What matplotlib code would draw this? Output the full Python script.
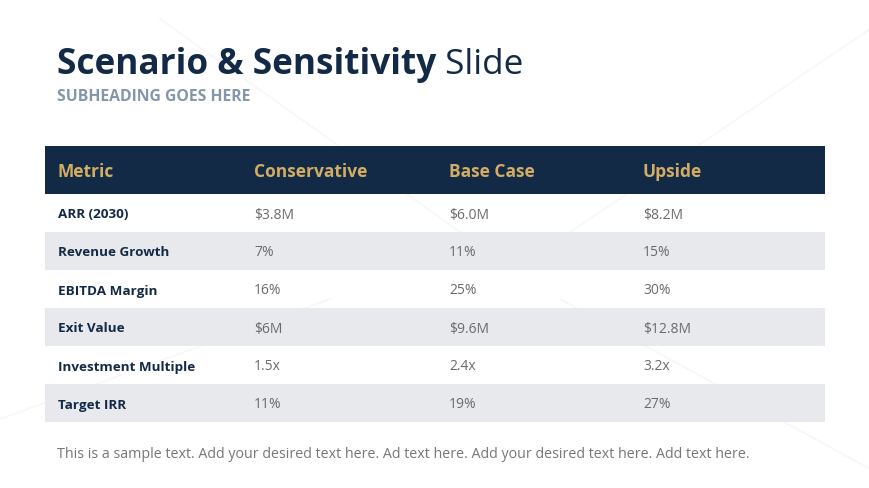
import matplotlib
matplotlib.use("Agg")
import matplotlib.pyplot as plt
from matplotlib.patches import Rectangle

# ---- data ----
columns = ["Metric", "Conservative", "Base Case", "Upside"]
metrics = ["ARR (2030)", "Revenue Growth", "EBITDA Margin", "Exit Value",
           "Investment Multiple", "Target IRR"]
conservative = ["$3.8M", "7%", "16%", "$6M", "1.5x", "11%"]
base_case = ["$6.0M", "11%", "25%", "$9.6M", "2.4x", "19%"]
upside = ["$8.2M", "15%", "30%", "$12.8M", "3.2x", "27%"]

title_bold = "Scenario & Sensitivity"
title_light = " Slide"
subheading = "SUBHEADING GOES HERE"
footer = ("This is a sample text. Add your desired text here. Ad text here. "
          "Add your desired text here. Add text here.")

NAVY = "#132a47"
GOLD = "#d2ad63"
STRIPE = "#e7e9ed"
VAL = "#6b6b6b"
FONT = "Open Sans"

W, H = 870, 489
fig = plt.figure(figsize=(W / 100, H / 100), dpi=100)
ax = fig.add_axes([0, 0, 1, 1])
ax.set_xlim(0, W)
ax.set_ylim(H, 0)
ax.axis("off")
fig.patch.set_facecolor("white")

# faint background lines
for (x0, y0, x1, y1) in [(160, 20, 470, 240), (870, 30, 560, 240), (0, 420, 330, 300), (560, 300, 870, 470)]:
    ax.plot([x0, x1], [y0, y1], color="#f7f7f7", lw=1.2, zorder=0)

# title
t = ax.text(57, 74, title_bold, fontsize=25.3, fontweight="bold", color=NAVY,
            family=FONT, va="baseline", ha="left")
fig.canvas.draw()
bb = t.get_window_extent()
inv = ax.transData.inverted()
xd = inv.transform((bb.x1, 0))[0]
ax.text(xd, 74, title_light, fontsize=25.3, color=NAVY, family=FONT,
        va="baseline", ha="left")

ax.text(57, 97, subheading, fontsize=11.3, fontweight="bold", color="#8596ab",
        family=FONT, va="center", ha="left")

# table
left, right = 45, 825
col_x = [58, 254, 449, 643]
head_top, head_bot = 147, 195
row_h = 38

ax.add_patch(Rectangle((left, head_top), right - left, head_bot - head_top,
                       facecolor=NAVY, edgecolor="none", zorder=1))
for x, c in zip(col_x, columns):
    ax.text(x, (head_top + head_bot) / 2 + 1, c, fontsize=12.5, fontweight="bold",
            color=GOLD, family=FONT, va="center", ha="left", zorder=2)

values = [conservative, base_case, upside]
for i, m in enumerate(metrics):
    y0 = head_bot + i * row_h
    if i % 2 == 1:
        ax.add_patch(Rectangle((left, y0), right - left, row_h,
                               facecolor=STRIPE, edgecolor="none", zorder=1))
    yc = y0 + row_h / 2 + 1
    ax.text(col_x[0], yc, m, fontsize=9.7, fontweight="bold", color=NAVY,
            family=FONT, va="center", ha="left", zorder=2)
    for j, series in enumerate(values):
        ax.text(col_x[j + 1], yc, series[i], fontsize=10, color=VAL,
                family=FONT, va="center", ha="left", zorder=2)

ax.text(57, 454, footer, fontsize=10.3, color="#777777", family=FONT,
        va="center", ha="left")

fig.savefig("out.png", dpi=100, facecolor="white")
